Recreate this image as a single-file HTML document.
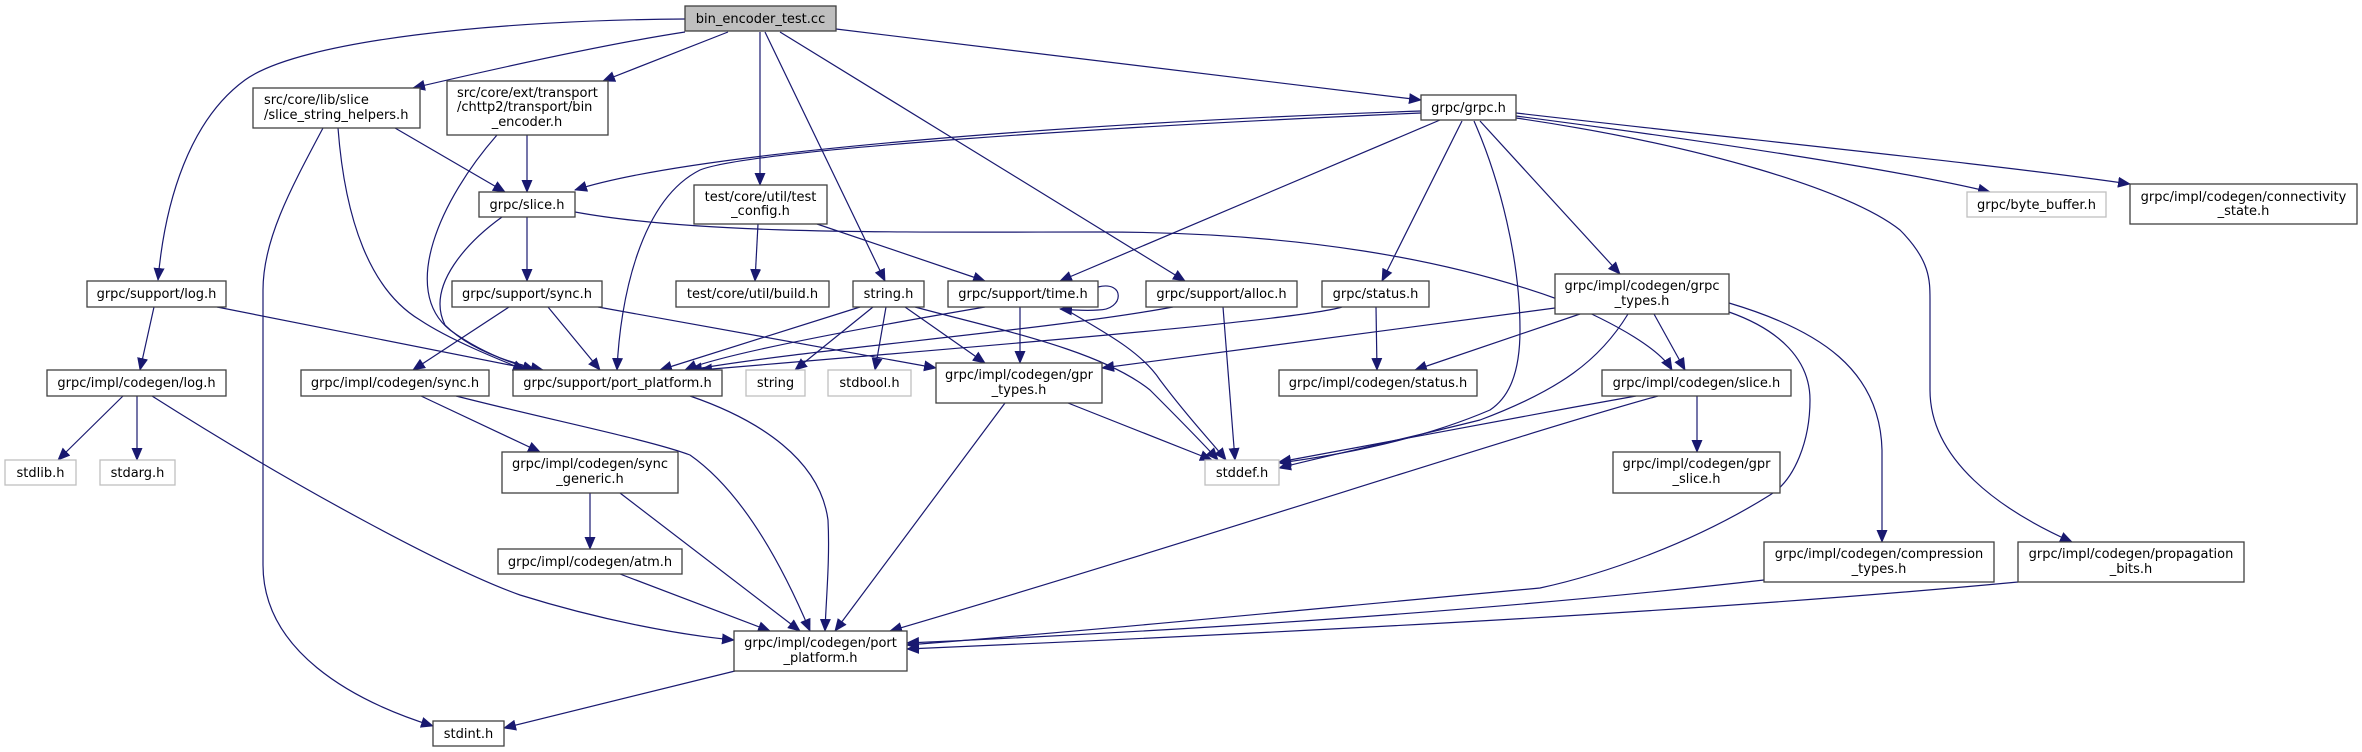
<!DOCTYPE html>
<html><head><meta charset="utf-8"><style>
html,body{margin:0;padding:0;background:#fff;}
svg{display:block;}
text{font-family:"DejaVu Sans","Liberation Sans",sans-serif;font-size:13px;fill:#000;}
.n{fill:#fff;stroke:#404040;stroke-width:1.3;}
.g{fill:#fff;stroke:#bfbfbf;stroke-width:1.3;}
.e{fill:none;stroke:#191970;stroke-width:1.2;}
</style></head><body>
<svg width="2362" height="752" viewBox="0 0 2362 752" xmlns="http://www.w3.org/2000/svg">
<defs><marker id="a" markerUnits="userSpaceOnUse" markerWidth="13" markerHeight="11" refX="12" refY="5.5" orient="auto"><path d="M0,0 L13,5.5 L0,11 z" fill="#191970"/></marker></defs>
<g marker-end="url(#a)">
<path class="e" d="M685,19 C500,20 300,40 245,80 C190,120 165,200 158,280"/>
<path class="e" d="M685,32 C600,45 490,70 413,88"/>
<path class="e" d="M728,32 L603,81"/>
<path class="e" d="M760,32 L760,185"/>
<path class="e" d="M765,32 L885,281"/>
<path class="e" d="M780,32 L1185,281"/>
<path class="e" d="M836,29 L1421,100"/>
<path class="e" d="M395,128 L505,192"/>
<path class="e" d="M338,128 C345,220 370,290 420,320 C450,340 500,360 525,370"/>
<path class="e" d="M323,128 C290,190 263,240 263,290 L263,565 C263,650 350,700 433,726"/>
<path class="e" d="M527,135 L527,192"/>
<path class="e" d="M497,135 C440,200 400,290 450,330 C480,352 510,363 535,370"/>
<path class="e" d="M527,217 L527,281"/>
<path class="e" d="M502,217 C470,240 425,285 445,325 C470,350 510,363 543,370"/>
<path class="e" d="M575,212 C700,235 900,232 1100,232 C1300,232 1450,260 1560,300 C1620,325 1660,350 1672,370"/>
<path class="e" d="M758,224 L755,281"/>
<path class="e" d="M817,224 L985,281"/>
<path class="e" d="M1421,111 C1100,122 700,150 575,190"/>
<path class="e" d="M1421,113 C1100,127 750,150 700,170 C640,200 620,300 617,370"/>
<path class="e" d="M1440,120 L1060,281"/>
<path class="e" d="M1462,121 L1382,281"/>
<path class="e" d="M1474,121 C1500,180 1520,260 1520,330 C1520,380 1505,400 1490,410 C1420,440 1340,455 1279,463"/>
<path class="e" d="M1480,121 L1620,274"/>
<path class="e" d="M1516,116 C1700,140 1900,170 1990,192"/>
<path class="e" d="M1516,113 C1750,140 2000,165 2130,184"/>
<path class="e" d="M1516,118 C1700,145 1850,190 1900,230 C1930,260 1930,280 1930,300 L1930,390 C1930,460 2000,510 2072,542"/>
<path class="e" d="M860,307 L660,370"/>
<path class="e" d="M873,307 L795,370"/>
<path class="e" d="M886,307 L875,370"/>
<path class="e" d="M905,307 L985,363"/>
<path class="e" d="M915,307 C1000,330 1100,350 1150,390 C1180,420 1200,440 1218,460"/>
<path class="e" d="M985,307 C850,330 720,355 685,370"/>
<path class="e" d="M1020,307 L1020,363"/>
<path class="e" d="M1065,309 C1100,330 1140,350 1160,380 C1190,420 1210,440 1226,460"/>
<path class="e" d="M1098,287 C1125,280 1125,310 1098,310 C1085,311 1072,310 1060,309"/>
<path class="e" d="M1173,307 C1050,330 800,350 690,370"/>
<path class="e" d="M1223,307 L1235,460"/>
<path class="e" d="M1342,307 C1300,320 1000,345 700,370"/>
<path class="e" d="M1376,307 L1377,370"/>
<path class="e" d="M1555,308 L1102,368"/>
<path class="e" d="M1580,314 L1415,370"/>
<path class="e" d="M1654,314 L1685,370"/>
<path class="e" d="M1628,314 C1600,360 1560,390 1480,420 C1400,440 1330,455 1279,468"/>
<path class="e" d="M1729,303 C1820,330 1880,370 1882,450 L1882,542"/>
<path class="e" d="M1729,312 C1780,330 1810,360 1810,400 C1810,440 1795,480 1770,495 C1690,545 1600,575 1540,588 C1300,610 1100,630 907,645"/>
<path class="e" d="M1636,396 C1500,420 1350,450 1279,462"/>
<path class="e" d="M1658,396 C1500,440 1200,540 890,631"/>
<path class="e" d="M1697,396 L1697,452"/>
<path class="e" d="M154,307 L140,370"/>
<path class="e" d="M217,307 L535,370"/>
<path class="e" d="M123,396 L58,460"/>
<path class="e" d="M137,396 L137,460"/>
<path class="e" d="M152,396 C300,490 450,570 520,595 C600,620 680,635 734,640"/>
<path class="e" d="M509,307 L413,370"/>
<path class="e" d="M548,307 L600,370"/>
<path class="e" d="M598,307 L936,368"/>
<path class="e" d="M421,396 L540,452"/>
<path class="e" d="M456,396 C550,420 650,440 690,455 C740,490 780,560 810,631"/>
<path class="e" d="M690,396 C760,420 820,460 828,520 C830,560 826,600 825,631"/>
<path class="e" d="M590,493 L590,549"/>
<path class="e" d="M620,493 L800,631"/>
<path class="e" d="M620,574 L770,631"/>
<path class="e" d="M735,671 L504,728"/>
<path class="e" d="M1005,403 L835,631"/>
<path class="e" d="M1068,403 L1212,460"/>
<path class="e" d="M1764,580 C1500,610 1200,630 907,643"/>
<path class="e" d="M2018,582 C1700,612 1300,632 907,649"/>
</g>

<rect x="685" y="6" width="151" height="25" fill="#bfbfbf" stroke="#404040" stroke-width="1.3"/><text x="760.5" y="23" text-anchor="middle">bin_encoder_test.cc</text>
<rect class="n" x="253" y="88" width="167" height="40"/><text x="264" y="104">src/core/lib/slice</text><text x="264" y="119">/slice_string_helpers.h</text>
<rect class="n" x="447" y="81" width="161" height="54"/><text x="457" y="97">src/core/ext/transport</text><text x="457" y="111">/chttp2/transport/bin</text><text x="527" y="126" text-anchor="middle">_encoder.h</text>
<rect class="n" x="1421" y="95" width="95" height="25"/><text x="1468.5" y="112" text-anchor="middle">grpc/grpc.h</text>
<rect class="n" x="479" y="192" width="96" height="25"/><text x="527" y="209" text-anchor="middle">grpc/slice.h</text>
<rect class="n" x="694" y="185" width="133" height="39"/><text x="760.5" y="201" text-anchor="middle">test/core/util/test</text><text x="760.5" y="215" text-anchor="middle">_config.h</text>
<rect class="n" x="87" y="281" width="139" height="26"/><text x="156.5" y="298" text-anchor="middle">grpc/support/log.h</text>
<rect class="n" x="452" y="281" width="150" height="26"/><text x="527" y="298" text-anchor="middle">grpc/support/sync.h</text>
<rect class="n" x="676" y="281" width="153" height="26"/><text x="752.5" y="298" text-anchor="middle">test/core/util/build.h</text>
<rect class="n" x="853" y="281" width="71" height="26"/><text x="888.5" y="298" text-anchor="middle">string.h</text>
<rect class="n" x="948" y="281" width="150" height="26"/><text x="1023" y="298" text-anchor="middle">grpc/support/time.h</text>
<rect class="n" x="1146" y="281" width="151" height="26"/><text x="1221.5" y="298" text-anchor="middle">grpc/support/alloc.h</text>
<rect class="n" x="1322" y="281" width="107" height="26"/><text x="1375.5" y="298" text-anchor="middle">grpc/status.h</text>
<rect class="n" x="1555" y="274" width="174" height="40"/><text x="1642" y="290" text-anchor="middle">grpc/impl/codegen/grpc</text><text x="1642" y="305" text-anchor="middle">_types.h</text>
<rect class="g" x="1967" y="192" width="139" height="25"/><text x="2036.5" y="209" text-anchor="middle">grpc/byte_buffer.h</text>
<rect class="n" x="2130" y="184" width="227" height="40"/><text x="2243.5" y="201" text-anchor="middle">grpc/impl/codegen/connectivity</text><text x="2243.5" y="215" text-anchor="middle">_state.h</text>
<rect class="n" x="47" y="370" width="179" height="26"/><text x="136.5" y="387" text-anchor="middle">grpc/impl/codegen/log.h</text>
<rect class="n" x="301" y="370" width="188" height="26"/><text x="395" y="387" text-anchor="middle">grpc/impl/codegen/sync.h</text>
<rect class="n" x="513" y="370" width="209" height="26"/><text x="617.5" y="387" text-anchor="middle">grpc/support/port_platform.h</text>
<rect class="g" x="746" y="370" width="59" height="26"/><text x="775.5" y="387" text-anchor="middle">string</text>
<rect class="g" x="828" y="370" width="83" height="26"/><text x="869.5" y="387" text-anchor="middle">stdbool.h</text>
<rect class="n" x="936" y="363" width="166" height="40"/><text x="1019" y="379" text-anchor="middle">grpc/impl/codegen/gpr</text><text x="1019" y="394" text-anchor="middle">_types.h</text>
<rect class="n" x="1279" y="370" width="198" height="26"/><text x="1378" y="387" text-anchor="middle">grpc/impl/codegen/status.h</text>
<rect class="n" x="1602" y="370" width="189" height="26"/><text x="1696.5" y="387" text-anchor="middle">grpc/impl/codegen/slice.h</text>
<rect class="g" x="5" y="460" width="71" height="25"/><text x="40.5" y="477" text-anchor="middle">stdlib.h</text>
<rect class="g" x="100" y="460" width="75" height="25"/><text x="137.5" y="477" text-anchor="middle">stdarg.h</text>
<rect class="n" x="502" y="452" width="176" height="41"/><text x="590" y="468" text-anchor="middle">grpc/impl/codegen/sync</text><text x="590" y="483" text-anchor="middle">_generic.h</text>
<rect class="n" x="498" y="549" width="184" height="25"/><text x="590" y="566" text-anchor="middle">grpc/impl/codegen/atm.h</text>
<rect class="g" x="1205" y="460" width="74" height="25"/><text x="1242" y="477" text-anchor="middle">stddef.h</text>
<rect class="n" x="1613" y="452" width="167" height="41"/><text x="1696.5" y="468" text-anchor="middle">grpc/impl/codegen/gpr</text><text x="1696.5" y="483" text-anchor="middle">_slice.h</text>
<rect class="n" x="1764" y="542" width="230" height="40"/><text x="1879" y="558" text-anchor="middle">grpc/impl/codegen/compression</text><text x="1879" y="573" text-anchor="middle">_types.h</text>
<rect class="n" x="2018" y="542" width="226" height="40"/><text x="2131" y="558" text-anchor="middle">grpc/impl/codegen/propagation</text><text x="2131" y="573" text-anchor="middle">_bits.h</text>
<rect class="n" x="734" y="631" width="173" height="40"/><text x="820.5" y="647" text-anchor="middle">grpc/impl/codegen/port</text><text x="820.5" y="662" text-anchor="middle">_platform.h</text>
<rect class="n" x="433" y="721" width="71" height="25"/><text x="468.5" y="738" text-anchor="middle">stdint.h</text>
</svg>
</body></html>
